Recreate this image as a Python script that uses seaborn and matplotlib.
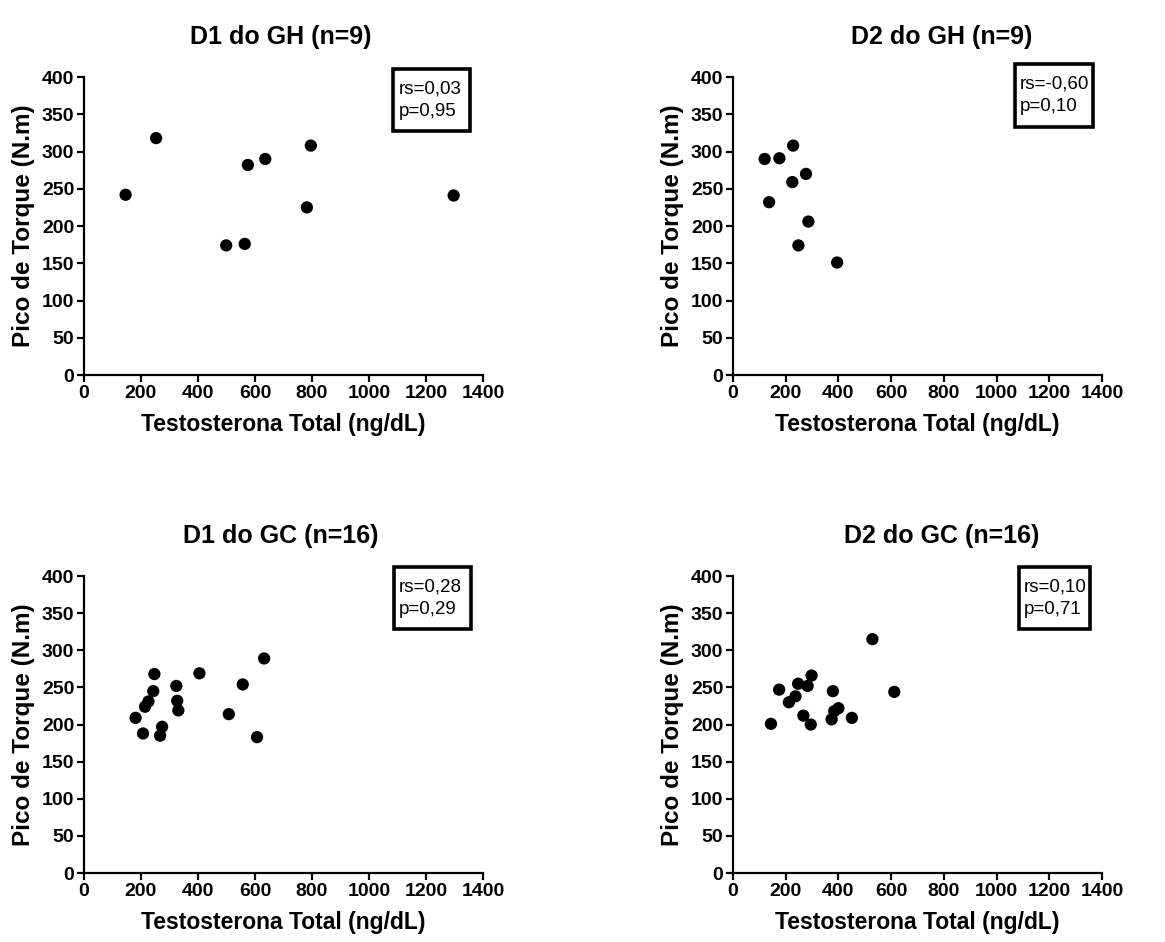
import matplotlib
matplotlib.use("Agg")
import matplotlib.pyplot as plt
import seaborn as sns
import pandas as pd
from matplotlib.patches import Rectangle

# values (Testosterona Total vs Pico de Torque)
d1_gh_x = [146, 253, 499, 564, 575, 636, 796, 782, 1297]
d1_gh_y = [242, 318, 174, 176, 282, 290, 308, 225, 241]
d2_gh_x = [120, 176, 228, 225, 277, 137, 286, 248, 395]
d2_gh_y = [290, 291, 308, 259, 270, 232, 206, 174, 151]
d1_gc_x = [181, 207, 214, 226, 243, 247, 267, 274, 324, 327, 331, 405, 508, 557, 607, 632]
d1_gc_y = [209, 188, 224, 231, 245, 268, 185, 197, 252, 232, 219, 269, 214, 254, 183, 289]
d2_gc_x = [144, 175, 212, 237, 247, 267, 283, 298, 295, 379, 374, 384, 400, 451, 529, 612]
d2_gc_y = [201, 247, 230, 238, 255, 212, 252, 266, 200, 245, 207, 218, 222, 209, 315, 244]

titles = ["D1 do GH (n=9)", "D2 do GH (n=9)", "D1 do GC (n=16)", "D2 do GC (n=16)"]
stats = ["rs=0,03\np=0,95", "rs=-0,60\np=0,10", "rs=0,28\np=0,29", "rs=0,10\np=0,71"]
x_ticks = [0, 200, 400, 600, 800, 1000, 1200, 1400]
y_ticks = [0, 50, 100, 150, 200, 250, 300, 350, 400]

sns.set_style("ticks")
plt.rcParams["font.family"] = ["Liberation Sans", "DejaVu Sans"]
plt.rcParams.update({"text.color": "black", "axes.labelcolor": "black",
                     "xtick.color": "black", "ytick.color": "black",
                     "axes.edgecolor": "black"})

fig = plt.figure(figsize=(11.65, 9.42), dpi=100)

# axes rectangles and stat-box rectangles (figure / axes fractions)
ax_pos = [
    [0.0721, 0.6019, 0.3425, 0.3163],
    [0.6292, 0.6019, 0.3167, 0.3163],
    [0.0721, 0.0732, 0.3425, 0.3153],
    [0.6292, 0.0732, 0.3167, 0.3153],
]
box_pos = [
    [0.774, 0.819, 0.193, 0.208],
    [0.764, 0.832, 0.212, 0.212],
    [0.776, 0.822, 0.195, 0.208],
    [0.775, 0.822, 0.192, 0.208],
]
title_x = [0.494, 0.566, 0.494, 0.566]

panels = [(d1_gh_x, d1_gh_y), (d2_gh_x, d2_gh_y), (d1_gc_x, d1_gc_y), (d2_gc_x, d2_gc_y)]

for i, (xs, ys) in enumerate(panels):
    ax = fig.add_axes(ax_pos[i])
    df = pd.DataFrame({"testo": xs, "torque": ys})
    sns.scatterplot(data=df, x="testo", y="torque", ax=ax, color="black",
                    s=78, edgecolor="none", clip_on=False, zorder=3)
    ax.set_xlim(0, 1400)
    ax.set_ylim(0, 400)
    ax.set_xticks(x_ticks)
    ax.set_yticks(y_ticks)
    sns.despine(ax=ax)
    for sp in ["left", "bottom"]:
        ax.spines[sp].set_linewidth(1.6)
    ax.tick_params(axis="both", width=1.6, length=5, labelsize=14, pad=2)
    for lab in ax.get_xticklabels() + ax.get_yticklabels():
        lab.set_fontweight("bold")
    ax.set_xlabel("Testosterona Total (ng/dL)", fontsize=16.5, fontweight="bold", labelpad=8)
    ax.set_ylabel("Pico de Torque (N.m)", fontsize=17.5, fontweight="bold", labelpad=5)
    ax.set_title(titles[i], fontsize=18, fontweight="bold", x=title_x[i], pad=24)

    bx, by, bw, bh = box_pos[i]
    ax.add_patch(Rectangle((bx, by), bw, bh, transform=ax.transAxes, fill=True,
                           facecolor="white", edgecolor="black", lw=2.6,
                           clip_on=False, zorder=4))
    ax.text(bx + 0.014, by + bh / 2, stats[i], transform=ax.transAxes,
            fontsize=13.5, va="center", ha="left", linespacing=1.4, zorder=5)

fig.savefig("out.png", dpi=100)
